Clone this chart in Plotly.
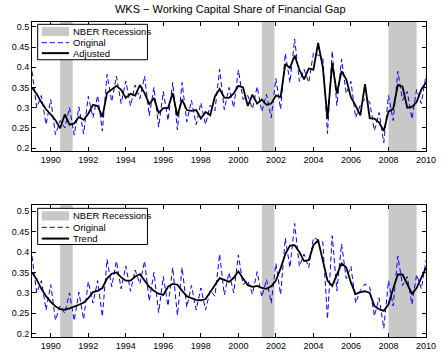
import plotly.graph_objects as go
from plotly.subplots import make_subplots

# Quarterly observations 1989Q1 .. 2010Q1
start_year = 1989
n_obs = 85
quarters = [start_year + 0.25 * i for i in range(n_obs)]

original = [
    0.390, 0.300, 0.330, 0.258,
    0.320, 0.233, 0.268, 0.250,
    0.300, 0.232, 0.302, 0.235,
    0.328, 0.275, 0.330, 0.242,
    0.382, 0.315, 0.378, 0.310,
    0.366, 0.304, 0.356, 0.322,
    0.378, 0.280, 0.350, 0.252,
    0.340, 0.268, 0.362, 0.245,
    0.362, 0.265, 0.318, 0.258,
    0.312, 0.258, 0.306, 0.292,
    0.395, 0.295, 0.350, 0.300,
    0.393, 0.320, 0.330, 0.297,
    0.352, 0.290, 0.333, 0.275,
    0.372, 0.296, 0.434, 0.362,
    0.470, 0.365, 0.395, 0.362,
    0.435, 0.430, 0.425, 0.236,
    0.440, 0.305, 0.420, 0.335,
    0.365, 0.275, 0.306, 0.322,
    0.314, 0.243, 0.288, 0.213,
    0.330, 0.268, 0.390, 0.318,
    0.340, 0.272, 0.345, 0.310,
    0.380,
]

adjusted = [
    0.350, 0.334, 0.313, 0.296,
    0.283, 0.269, 0.249, 0.283,
    0.258, 0.261, 0.277, 0.270,
    0.285, 0.307, 0.304, 0.277,
    0.336, 0.344, 0.354, 0.344,
    0.324, 0.334, 0.330, 0.356,
    0.336, 0.309, 0.324, 0.287,
    0.299, 0.299, 0.336, 0.279,
    0.320, 0.294, 0.292, 0.294,
    0.273, 0.289, 0.281, 0.328,
    0.346, 0.325, 0.324, 0.335,
    0.354, 0.350, 0.304, 0.332,
    0.310, 0.320, 0.307, 0.310,
    0.330, 0.326, 0.408, 0.398,
    0.429, 0.394, 0.370, 0.397,
    0.394, 0.460, 0.400, 0.272,
    0.410, 0.335, 0.390, 0.370,
    0.325, 0.305, 0.281, 0.358,
    0.274, 0.273, 0.263, 0.242,
    0.290, 0.297, 0.356, 0.352,
    0.300, 0.302, 0.314, 0.345,
    0.362,
]

trend = [
    0.350, 0.333, 0.310, 0.292,
    0.278, 0.267, 0.260, 0.259,
    0.262, 0.266, 0.271, 0.276,
    0.287, 0.302, 0.305, 0.312,
    0.335, 0.347, 0.350, 0.338,
    0.330, 0.330, 0.340, 0.346,
    0.330, 0.315, 0.305, 0.298,
    0.295, 0.315, 0.322, 0.320,
    0.305, 0.292, 0.287, 0.283,
    0.282, 0.285, 0.302, 0.320,
    0.336, 0.332, 0.327, 0.337,
    0.353, 0.335, 0.319, 0.315,
    0.317, 0.312, 0.310, 0.316,
    0.330, 0.360, 0.395, 0.416,
    0.417, 0.400, 0.378, 0.380,
    0.417, 0.429, 0.380, 0.330,
    0.317, 0.345, 0.372, 0.362,
    0.325, 0.297, 0.302, 0.304,
    0.300, 0.268, 0.260, 0.256,
    0.272, 0.310, 0.345, 0.345,
    0.320, 0.298, 0.312, 0.335,
    0.362,
]

recession_start = [1990.5, 2001.25, 2008.0]
recession_end = [1991.17, 2001.92, 2009.5]

x_tick_vals = [1990, 1992, 1994, 1996, 1998, 2000, 2002, 2004, 2006, 2008, 2010]
x_tick_text = ["1990", "1992", "1994", "1996", "1998", "2000", "2002", "2004", "2006", "2008", "2010"]
y_tick_vals = [0.2, 0.25, 0.3, 0.35, 0.4, 0.45, 0.5]
y_tick_text = ["0.2", "0.25", "0.3", "0.35", "0.4", "0.45", "0.5"]

title_text = "WKS \u2212 Working Capital Share of Financial Gap"
legend_top = ["NBER Recessions", "Original", "Adjusted"]
legend_bottom = ["NBER Recessions", "Original", "Trend"]

FONT = "Liberation Sans, Arial, sans-serif"
GRAY = "#c8c8c8"
BLUE = "#0000ff"

fig = make_subplots(rows=2, cols=1, vertical_spacing=0.0)

fig.add_trace(go.Scatter(x=quarters, y=original, mode="lines",
                         line=dict(color=BLUE, width=1, dash="5px,3px"),
                         showlegend=False), row=1, col=1)
fig.add_trace(go.Scatter(x=quarters, y=adjusted, mode="lines",
                         line=dict(color="black", width=1.8),
                         showlegend=False), row=1, col=1)
fig.add_trace(go.Scatter(x=quarters, y=original, mode="lines",
                         line=dict(color=BLUE, width=1, dash="5px,3px"),
                         showlegend=False), row=2, col=1)
fig.add_trace(go.Scatter(x=quarters, y=trend, mode="lines",
                         line=dict(color="black", width=1.8),
                         showlegend=False), row=2, col=1)

# recession shading
for xr, yr in (("x", "y domain"), ("x2", "y2 domain")):
    for s, e in zip(recession_start, recession_end):
        fig.add_shape(type="rect", xref=xr, yref=yr, x0=s, x1=e, y0=0, y1=1,
                      fillcolor=GRAY, line=dict(width=0), layer="below")

# manual legends (box + symbols + labels)
def add_legend(xr, yr, box, rect, rows_y, labels):
    fig.add_shape(type="rect", xref=xr, yref=yr, x0=box[0], x1=box[1],
                  y0=box[2], y1=box[3], fillcolor="white",
                  line=dict(color="black", width=1), layer="above")
    sx0, sx1 = 0.0249, 0.094
    fig.add_shape(type="rect", xref=xr, yref=yr, x0=sx0, x1=sx1,
                  y0=rect[0], y1=rect[1], fillcolor=GRAY,
                  line=dict(width=0), layer="above")
    fig.add_shape(type="line", xref=xr, yref=yr, x0=sx0, x1=sx1,
                  y0=rows_y[1], y1=rows_y[1],
                  line=dict(color=BLUE, width=1, dash="5px,3px"), layer="above")
    fig.add_shape(type="line", xref=xr, yref=yr, x0=sx0, x1=sx1,
                  y0=rows_y[2], y1=rows_y[2],
                  line=dict(color="black", width=2), layer="above")
    for yy, lab in zip(rows_y, labels):
        fig.add_annotation(xref=xr, yref=yr, x=0.0999, y=yy, text=lab,
                           showarrow=False, xanchor="left", yanchor="middle",
                           font=dict(family=FONT, size=9.5, color="black"))

add_legend("x domain", "y domain", (0.0144, 0.293, 0.708, 0.982),
           (0.891, 0.962), (0.924, 0.840, 0.759), legend_top)
add_legend("x2 domain", "y2 domain", (0.0144, 0.293, 0.699, 0.9725),
           (0.881, 0.950), (0.918, 0.829, 0.744), legend_bottom)

axis_common = dict(showgrid=False, zeroline=False, showline=True,
                   linecolor="black", linewidth=1, mirror="allticks",
                   ticks="inside", ticklen=4, tickcolor="black",
                   tickfont=dict(family=FONT, size=9, color="black"))

fig.update_xaxes(range=[1989, 2010], tickvals=x_tick_vals, ticktext=x_tick_text,
                 showticklabels=True, **axis_common)
fig.update_yaxes(tickvals=y_tick_vals, ticktext=y_tick_text, **axis_common)
fig.update_yaxes(range=[0.192, 0.512], row=1, col=1)
fig.update_yaxes(range=[0.192, 0.516], row=2, col=1)

fig.update_layout(
    width=448, height=363,
    margin=dict(l=26, r=13, t=22, b=21, pad=0),
    paper_bgcolor="white", plot_bgcolor="white",
    showlegend=False,
    xaxis=dict(domain=[0, 1]),
    yaxis=dict(domain=[0.5897, 1.0]),
    xaxis2=dict(domain=[0, 1]),
    yaxis2=dict(domain=[0.0, 0.42]),
    title=dict(text=title_text, x=0.514, xanchor="center", y=0.975, yanchor="middle",
               font=dict(family=FONT, size=11, color="black")),
)

# remove the browser's default 8px page margin so the figure sits at the window origin
fig.write_html("out.html",
               config={"displayModeBar": False, "staticPlot": True},
               post_script="document.body.style.margin='0px';")
